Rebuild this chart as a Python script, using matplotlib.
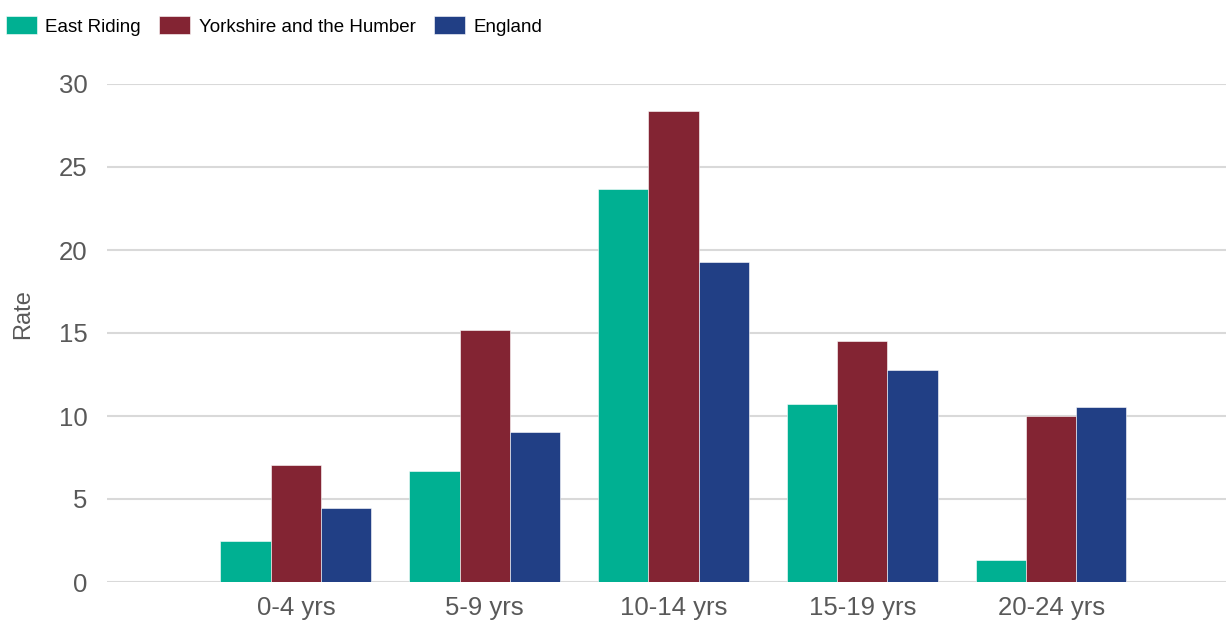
import matplotlib.pyplot as plt
import numpy as np

plt.rcParams["font.family"] = ["Liberation Sans", "DejaVu Sans"]

age_groups = ["0-4 yrs", "5-9 yrs", "10-14 yrs", "15-19 yrs", "20-24 yrs"]
east_riding = [2.5, 6.7, 23.7, 10.7, 1.3]
yorkshire = [7.05, 15.2, 28.4, 14.5, 10.0]
england = [4.45, 9.05, 19.25, 12.8, 10.55]

series = [
    ("East Riding", east_riding, "#00b092"),
    ("Yorkshire and the Humber", yorkshire, "#832433"),
    ("England", england, "#213f85"),
]

W, H = 1226, 622
fig = plt.figure(figsize=(W / 100, H / 100), dpi=100)
ax = fig.add_axes([107 / W, 1 - 582 / H, (W - 107) / W, (582 - 84) / H])

# grouped bars, one slot per age band, three series side by side
x = np.arange(len(age_groups))
width = 0.266
for i, (name, vals, color) in enumerate(series):
    ax.bar(x + (i - 1) * width, vals, width, color=color, label=name,
           edgecolor="white", linewidth=0.4, zorder=3)

ax.set_xlim(-1.0, 4.926)
ax.set_ylim(0, 30)
ax.set_yticks(range(0, 31, 5))
ax.set_xticks(x)
ax.set_xticklabels(age_groups)
ax.grid(axis="y", color="#d9d9d9", linewidth=1.5, zorder=0)
ax.set_axisbelow(True)
for s in ax.spines.values():
    s.set_visible(False)
ax.tick_params(axis="y", length=0, pad=14, labelsize=18.5, labelcolor="#595959")
ax.tick_params(axis="x", length=0, pad=10, labelsize=18.5, labelcolor="#595959")

ax.set_ylabel("Rate", fontsize=17, color="#595959")
ax.yaxis.set_label_coords(-73 / (W - 107), (582 - 314) / (582 - 84))

handles, labels = ax.get_legend_handles_labels()
fig.legend(handles, labels, loc="center left", bbox_to_anchor=(0.0, 1 - 26 / H),
           ncol=3, frameon=False, fontsize=13.5,
           handlelength=1.65, handleheight=1.05, handletextpad=0.45,
           columnspacing=1.0, borderaxespad=0, borderpad=0.3)

fig.savefig("out.png", dpi=100)
